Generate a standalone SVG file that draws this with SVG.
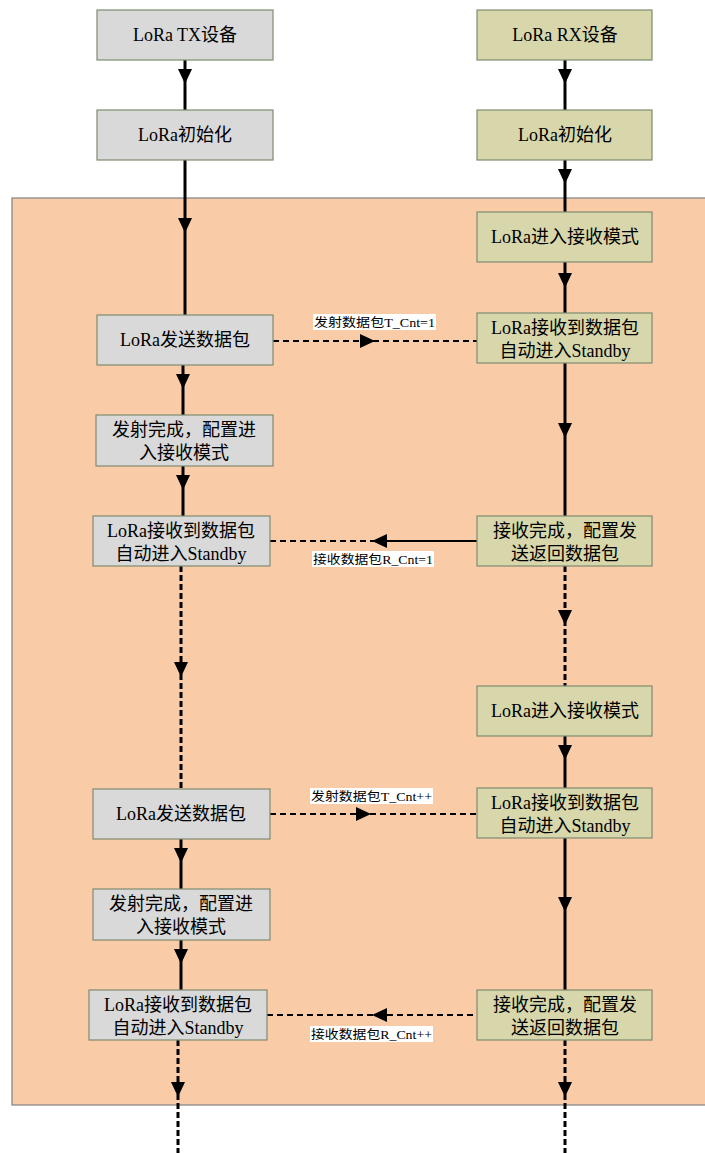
<svg xmlns="http://www.w3.org/2000/svg" xmlns:xlink="http://www.w3.org/1999/xlink" width="705" height="1153" viewBox="0 0 705 1153">
<style>
.tx{fill:#d9d9d9;stroke:#7e8c70;stroke-width:1.2}
.rx{fill:#d7d7ab;stroke:#7e8c70;stroke-width:1.2}
.t{font-family:"Liberation Serif","Noto Sans CJK SC",serif;font-size:18px;fill:#000;text-anchor:middle}
.lb{font-family:"Liberation Serif","Noto Sans CJK SC",serif;font-size:12.5px;fill:#000}
.lbg{fill:#fff}
.v{stroke:#000;stroke-width:3;fill:none}
.vd{stroke:#000;stroke-width:3;fill:none;stroke-dasharray:6 3}
.h{stroke:#000;stroke-width:2;fill:none}
.hd{stroke:#000;stroke-width:2;fill:none;stroke-dasharray:6 4}
.ah{fill:#000}
</style>
<defs>
<path id="ad" class="ah" d="M-7,-15 L7,-15 L0,0 Z"/>
</defs>
<rect x="12" y="198" width="700" height="907" fill="#f9cba7" stroke="#808080" stroke-width="1.2"/>
<g id="connectors">
<line class="v" x1="185" y1="60" x2="185" y2="110"/><use xlink:href="#ad" x="185" y="84"/>
<line class="v" x1="565" y1="60" x2="565" y2="110"/><use xlink:href="#ad" x="565" y="84"/>
<line class="v" x1="185" y1="160" x2="185" y2="315"/><use xlink:href="#ad" x="185" y="233"/>
<line class="v" x1="565" y1="160" x2="565" y2="212"/><use xlink:href="#ad" x="565" y="184"/>
<line class="v" x1="565" y1="262" x2="565" y2="313"/><use xlink:href="#ad" x="565" y="288"/>
<line class="hd" x1="273" y1="341" x2="477" y2="341"/><use xlink:href="#ad" transform="translate(375,341) rotate(-90)"/>
<line class="v" x1="183" y1="365" x2="183" y2="415"/><use xlink:href="#ad" x="183" y="389"/>
<line class="v" x1="565" y1="363" x2="565" y2="516"/><use xlink:href="#ad" x="565" y="438"/>
<line class="v" x1="183" y1="466" x2="183" y2="516"/><use xlink:href="#ad" x="183" y="490"/>
<line class="h" x1="373" y1="541" x2="477" y2="541"/><line class="hd" x1="270" y1="541" x2="373" y2="541"/><use xlink:href="#ad" transform="translate(372,541) rotate(90)"/>
<line class="vd" x1="181" y1="566" x2="181" y2="789"/><use xlink:href="#ad" x="181" y="677"/>
<line class="vd" x1="565" y1="566" x2="565" y2="686"/><use xlink:href="#ad" x="565" y="625"/>
<line class="v" x1="565" y1="736" x2="565" y2="788"/><use xlink:href="#ad" x="565" y="760"/>
<line class="hd" x1="270" y1="814" x2="477" y2="814"/><use xlink:href="#ad" transform="translate(371,814) rotate(-90)"/>
<line class="v" x1="181" y1="839" x2="181" y2="889"/><use xlink:href="#ad" x="181" y="863"/>
<line class="v" x1="565" y1="838" x2="565" y2="990"/><use xlink:href="#ad" x="565" y="912"/>
<line class="v" x1="181" y1="940" x2="181" y2="990"/><use xlink:href="#ad" x="181" y="964"/>
<line class="hd" x1="267" y1="1015" x2="477" y2="1015"/><use xlink:href="#ad" transform="translate(372,1015) rotate(90)"/>
<line class="vd" x1="178" y1="1040" x2="178" y2="1153"/><use xlink:href="#ad" x="178" y="1097"/>
<line class="vd" x1="565" y1="1040" x2="565" y2="1153"/><use xlink:href="#ad" x="565" y="1097"/>
</g>
<g id="labels">
<rect class="lbg" x="313" y="314" width="123" height="16"/>
<text class="lb" x="314" y="327" textLength="121" lengthAdjust="spacingAndGlyphs">发射数据包T_Cnt=1</text>
<rect class="lbg" x="312" y="551" width="122" height="16"/>
<text class="lb" x="313" y="564" textLength="120" lengthAdjust="spacingAndGlyphs">接收数据包R_Cnt=1</text>
<rect class="lbg" x="310" y="788" width="123" height="16"/>
<text class="lb" x="311" y="801" textLength="121" lengthAdjust="spacingAndGlyphs">发射数据包T_Cnt++</text>
<rect class="lbg" x="310" y="1026" width="123" height="16"/>
<text class="lb" x="311" y="1039" textLength="121" lengthAdjust="spacingAndGlyphs">接收数据包R_Cnt++</text>
</g>
<g id="tx1"><rect class="tx" x="97" y="10" width="176" height="50"/><text class="t" x="185" y="41">LoRa TX设备</text></g>
<g id="tx2"><rect class="tx" x="97" y="110" width="176" height="50"/><text class="t" x="185" y="141">LoRa初始化</text></g>
<g id="rx1"><rect class="rx" x="477" y="10" width="175" height="50"/><text class="t" x="565" y="41">LoRa RX设备</text></g>
<g id="rx2"><rect class="rx" x="477" y="110" width="175" height="50"/><text class="t" x="565" y="141">LoRa初始化</text></g>
<g id="rx3"><rect class="rx" x="477" y="212" width="175" height="50"/><text class="t" x="565" y="243">LoRa进入接收模式</text></g>
<g id="tx3"><rect class="tx" x="97" y="315" width="176" height="50"/><text class="t" x="185" y="346">LoRa发送数据包</text></g>
<g id="rx4"><rect class="rx" x="477" y="313" width="175" height="50"/><text class="t" x="565" y="334">LoRa接收到数据包</text><text class="t" x="565" y="357">自动进入Standby</text></g>
<g id="tx4"><rect class="tx" x="96" y="415" width="177" height="51"/><text class="t" x="184" y="436">发射完成，配置进</text><text class="t" x="184" y="459">入接收模式</text></g>
<g id="tx5"><rect class="tx" x="93" y="516" width="177" height="50"/><text class="t" x="181" y="537">LoRa接收到数据包</text><text class="t" x="181" y="560">自动进入Standby</text></g>
<g id="rx5"><rect class="rx" x="477" y="516" width="175" height="50"/><text class="t" x="565" y="537">接收完成，配置发</text><text class="t" x="565" y="560">送返回数据包</text></g>
<g id="rx6"><rect class="rx" x="477" y="686" width="175" height="50"/><text class="t" x="565" y="717">LoRa进入接收模式</text></g>
<g id="tx6"><rect class="tx" x="93" y="789" width="177" height="50"/><text class="t" x="181" y="820">LoRa发送数据包</text></g>
<g id="rx7"><rect class="rx" x="477" y="788" width="175" height="50"/><text class="t" x="565" y="809">LoRa接收到数据包</text><text class="t" x="565" y="832">自动进入Standby</text></g>
<g id="tx7"><rect class="tx" x="93" y="889" width="177" height="51"/><text class="t" x="181" y="910">发射完成，配置进</text><text class="t" x="181" y="933">入接收模式</text></g>
<g id="tx8"><rect class="tx" x="89" y="990" width="178" height="50"/><text class="t" x="178" y="1011">LoRa接收到数据包</text><text class="t" x="178" y="1034">自动进入Standby</text></g>
<g id="rx8"><rect class="rx" x="477" y="990" width="175" height="50"/><text class="t" x="565" y="1011">接收完成，配置发</text><text class="t" x="565" y="1034">送返回数据包</text></g>
</svg>
